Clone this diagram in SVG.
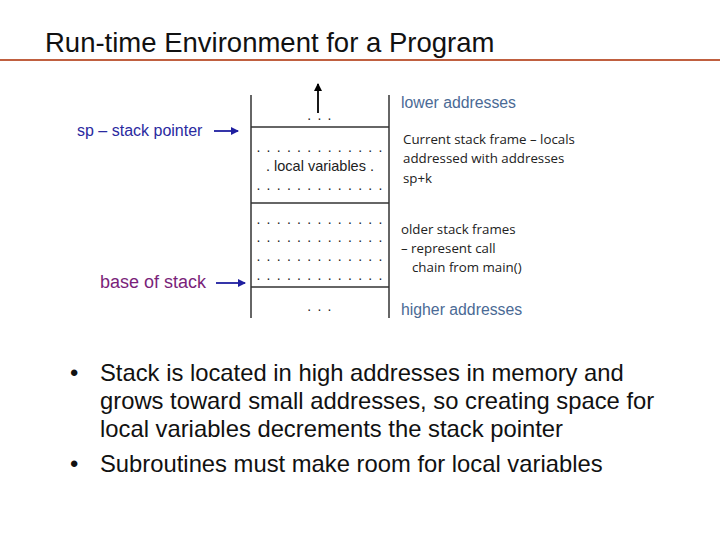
<svg xmlns="http://www.w3.org/2000/svg" width="720" height="539" viewBox="0 0 720 539">
<style>
text{font-family:"Liberation Sans",Arial,sans-serif}
.ln{stroke:#333;stroke-width:1.5;fill:none}
.dots{font-size:14px;fill:#222;letter-spacing:1.2px}
.note{font-size:13.3px;fill:#222;font-family:"Open Sans","Liberation Sans",sans-serif}
.addr{font-size:15.8px;fill:#4a6a95}
.bul{font-size:23.8px;fill:#111}
</style>
<defs><marker id="ah" markerWidth="8" markerHeight="8" refX="7" refY="4" orient="auto" markerUnits="userSpaceOnUse"><path d="M0,0 L8,4 L0,8 z" fill="#1f1fa0"/></marker>
<marker id="ak" markerWidth="8" markerHeight="8" refX="7" refY="4" orient="auto" markerUnits="userSpaceOnUse"><path d="M0,0 L8,4 L0,8 z" fill="#000"/></marker></defs>
<rect width="720" height="539" fill="#fff"/>
<text x="45" y="52" font-size="27.5" fill="#111">Run-time Environment for a Program</text>
<line x1="0" y1="60" x2="720" y2="60" stroke="#c06040" stroke-width="2"/>
<g id="stack">
<line class="ln" x1="251" y1="95" x2="251" y2="318"/>
<line class="ln" x1="389" y1="95" x2="389" y2="318"/>
<line class="ln" x1="251" y1="127" x2="389" y2="127"/>
<line class="ln" x1="251" y1="203" x2="389" y2="203"/>
<line class="ln" x1="251" y1="287" x2="389" y2="287"/>
<text x="320" y="120" class="dots" text-anchor="middle">. . .</text>
<text x="320" y="152" class="dots" text-anchor="middle">. . . . . . . . . . . . .</text>
<text x="320" y="171" font-size="14.5" fill="#222" text-anchor="middle">. local variables .</text>
<text x="320" y="190" class="dots" text-anchor="middle">. . . . . . . . . . . . .</text>
<text x="320" y="224" class="dots" text-anchor="middle">. . . . . . . . . . . . .</text>
<text x="320" y="242" class="dots" text-anchor="middle">. . . . . . . . . . . . .</text>
<text x="320" y="261" class="dots" text-anchor="middle">. . . . . . . . . . . . .</text>
<text x="320" y="280" class="dots" text-anchor="middle">. . . . . . . . . . . . .</text>
<text x="320" y="311" class="dots" text-anchor="middle">. . .</text>
</g>
<g id="connectors">
<line x1="318" y1="113" x2="318" y2="84" stroke="#000" stroke-width="1.8" marker-end="url(#ak)"/>
<line x1="214" y1="131" x2="238" y2="131" stroke="#1f1fa0" stroke-width="1.8" marker-end="url(#ah)"/>
<line x1="216" y1="283" x2="245" y2="283" stroke="#1f1fa0" stroke-width="1.8" marker-end="url(#ah)"/>
</g>
<g id="labels">
<text x="77" y="136" font-size="16" fill="#2a2aa0">sp – stack pointer</text>
<text x="100" y="288" font-size="18" fill="#7a1f7a">base of stack</text>
<text x="401" y="108" class="addr">lower addresses</text>
<text x="401" y="315" class="addr">higher addresses</text>
<text class="note"><tspan x="403" y="144">Current stack frame – locals</tspan><tspan x="403" y="163">addressed with addresses</tspan><tspan x="403" y="183">sp+k</tspan></text>
<text class="note"><tspan x="401" y="234">older stack frames</tspan><tspan x="401" y="253">– represent call</tspan><tspan x="412" y="272">chain from main()</tspan></text>
</g>
<g id="bullets">
<text x="70" y="381" class="bul">•</text>
<text x="100" y="381" class="bul">Stack is located in high addresses in memory and</text>
<text x="100" y="409" class="bul">grows toward small addresses, so creating space for</text>
<text x="100" y="437" class="bul">local variables decrements the stack pointer</text>
<text x="70" y="472" class="bul">•</text>
<text x="100" y="472" class="bul">Subroutines must make room for local variables</text>
</g>
</svg>
